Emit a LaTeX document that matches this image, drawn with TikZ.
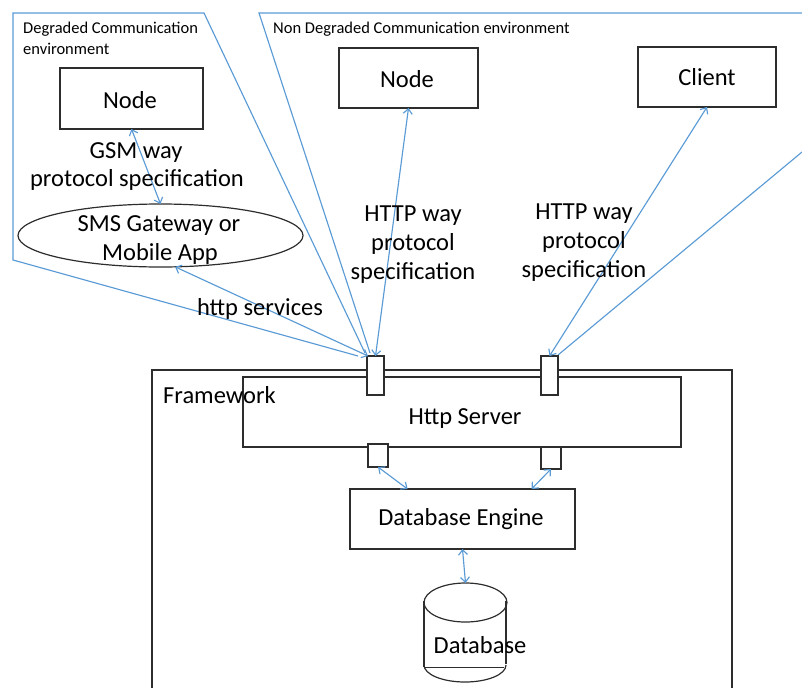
\documentclass[tikz,border=0pt]{standalone}
\usepackage{fontspec}
\setmainfont{Carlito}
\usetikzlibrary{arrows.meta,shapes.geometric}
\definecolor{linkblue}{RGB}{91,155,213}
\definecolor{edgegray}{RGB}{45,45,45}
\begin{document}
\begin{tikzpicture}[x=1pt,y=-1pt,
  box/.style={draw=edgegray, line width=1.2pt, fill=white, inner sep=0pt, outer sep=0pt},
  lbl/.style={font=\fontsize{24.5}{29}\selectfont, inner sep=0pt, anchor=base},
  small/.style={font=\fontsize{16.5}{19}\selectfont, inner sep=0pt, anchor=base west},
  env/.style={draw=linkblue, line width=1.15pt},
  link/.style={draw=linkblue, line width=1.15pt,
    {Straight Barb[length=5pt,width=9pt]}-{Straight Barb[length=5pt,width=9pt]}},
  solid line/.style={draw=edgegray, line width=1.2pt},
]
\useasboundingbox (0,0) rectangle (802,688);

% communication environments
\draw[env] (358,356) -- (13,260) -- (13,13) -- (204,13) -- (365,353);
\draw[env] (370,353) -- (259,13) -- (802,13);
\draw[env] (802,152) -- (558,355);

% framework container (open at the bottom)
\draw[solid line] (152,688) -- (152,370) -- (732,370) -- (732,688);

% boxes
\node[box, minimum width=143pt, minimum height=61pt] (n1) at (131.5,98.5) {};
\node[box, minimum width=139pt, minimum height=60pt] (n2) at (408.5,78) {};
\node[box, minimum width=138pt, minimum height=60pt] (client) at (707,77) {};
\node[box, ellipse, minimum width=285pt, minimum height=63pt] (sms) at (160.5,235.5) {};
\node[box, minimum width=438pt, minimum height=70pt] (srv) at (462,412) {};
\node[box, minimum width=225pt, minimum height=60pt] (eng) at (462.5,519) {};

% server ports
\node[box, minimum width=17pt, minimum height=39pt] (p1) at (375.5,375.5) {};
\node[box, minimum width=17pt, minimum height=39pt] (p2) at (549.5,375.5) {};
\node[box, minimum width=20pt, minimum height=23pt] (q1) at (378,455.5) {};
\node[box, minimum width=20pt, minimum height=22pt] (q2) at (551,458) {};

% database cylinder
\coordinate (dbtop) at (465.5,583);
\draw[solid line] (465.5,602.5) ellipse [x radius=41.5pt, y radius=19.5pt];
\draw[solid line] (424,601) -- (424,667);
\draw[solid line] (506,601) -- (506,664);
\draw[solid line] (424,665) arc[start angle=180, end angle=360, x radius=41pt, y radius=17pt];
\draw[draw=edgegray, line width=0.6pt] (424,667) -- (504,667);

% connectors
\draw[link] (n1.south) -- (sms.north);
\draw[link] (sms.-65) -- ([xshift=1pt]p1.north west);
\draw[link] (p1.north) -- (n2.south);
\draw[link] (p2.north) -- (client.south);
\draw[link] (q1.south) -- ([xshift=-55pt]eng.north);
\draw[link] (q2.south) -- ([xshift=69pt]eng.north);
\draw[link] (eng.south) -- (dbtop);

% texts
\node[small] (t1) at (23,33) {Degraded Communication};
\node[small] (t2) at (23,54) {environment};
\node[small] (t3) at (273,33) {Non Degraded Communication environment};
\node[lbl] (l1) at (130,108) {Node};
\node[lbl] (l2) at (407,87) {Node};
\node[lbl] (l3) at (707,85) {Client};
\node[lbl] (g1) at (136,158) {GSM way};
\node[lbl] (g2) at (137,186) {protocol specification};
\node[lbl] (s1) at (159,231) {SMS Gateway or};
\node[lbl] (s2) at (160,260) {Mobile App};
\node[lbl] (hs) at (260,315) {http services};
\node[lbl] (a1) at (413,221) {HTTP way};
\node[lbl] (a2) at (413,250) {protocol};
\node[lbl] (a3) at (413,279) {specification};
\node[lbl] (b1) at (584,219) {HTTP way};
\node[lbl] (b2) at (584,248) {protocol};
\node[lbl] (b3) at (584,277) {specification};
\node[lbl, anchor=base west] (fw) at (163,403) {Framework};
\node[lbl] (hsrv) at (465,424) {Http Server};
\node[lbl] (deng) at (461,525) {Database Engine};
\node[lbl] (db) at (480,653) {Database};
\end{tikzpicture}
\end{document}
